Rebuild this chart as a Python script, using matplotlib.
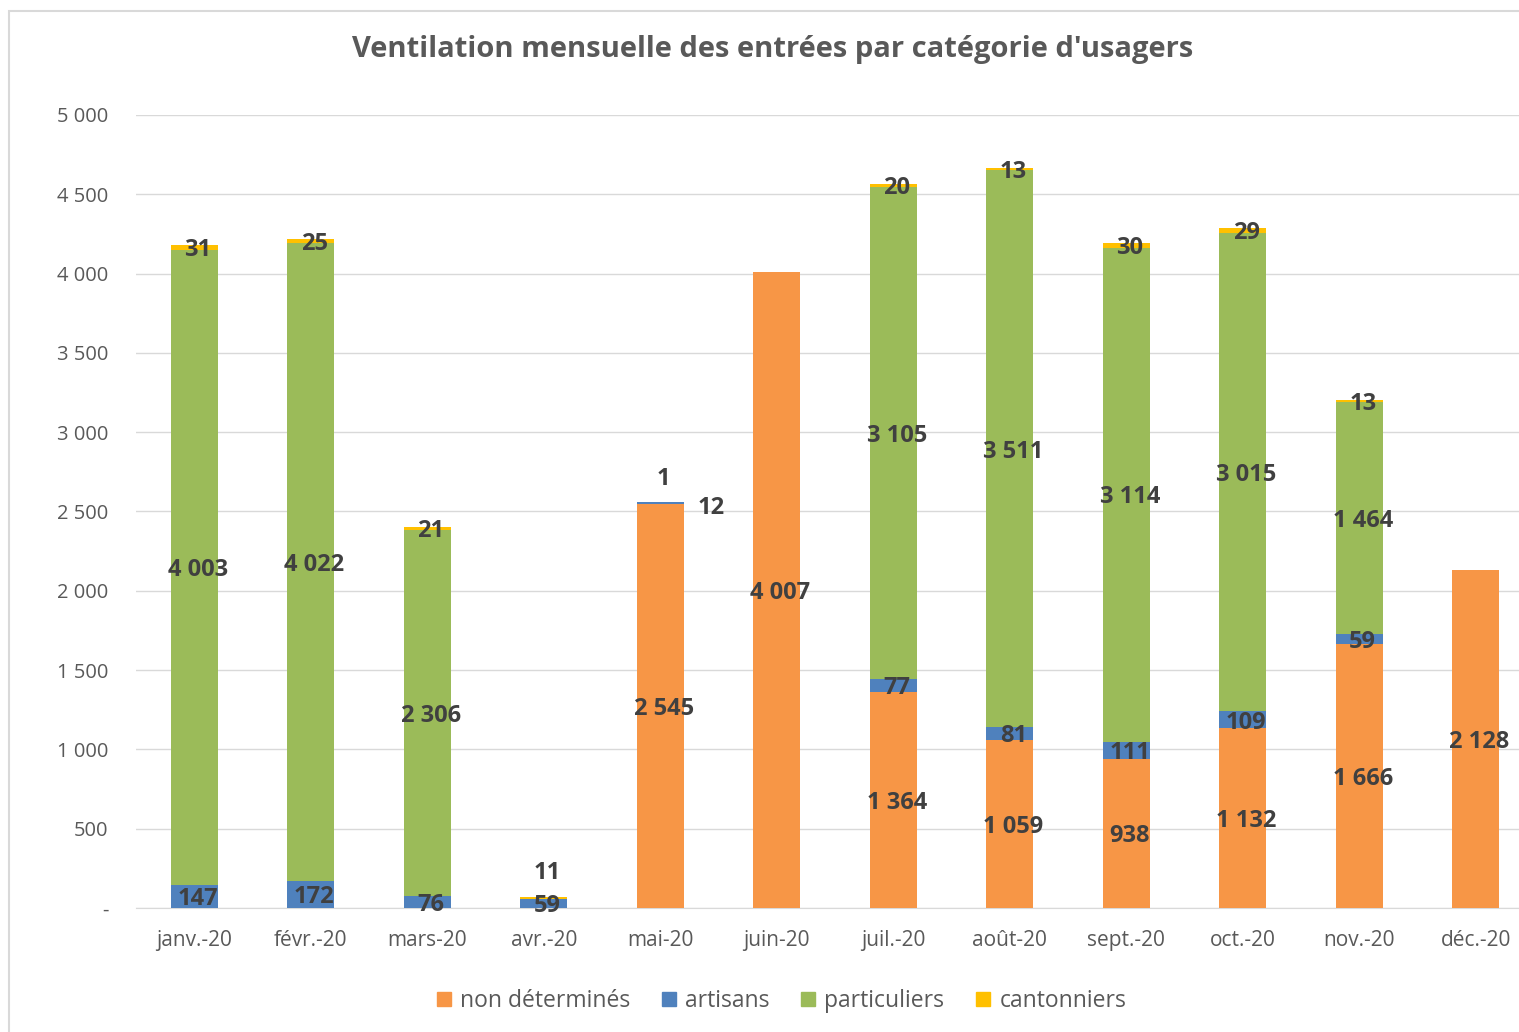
import matplotlib.pyplot as plt
from matplotlib.patches import Rectangle
from matplotlib.lines import Line2D
import numpy as np

plt.rcParams['font.family'] = ['Open Sans', 'DejaVu Sans']

mois = ['janv.-20', 'févr.-20', 'mars-20', 'avr.-20', 'mai-20', 'juin-20',
        'juil.-20', 'août-20', 'sept.-20', 'oct.-20', 'nov.-20', 'déc.-20']
non_determines = [0, 0, 0, 0, 2545, 4007, 1364, 1059, 938, 1132, 1666, 2128]
artisans = [147, 172, 76, 59, 12, 0, 77, 81, 111, 109, 59, 0]
particuliers = [4003, 4022, 2306, 0, 0, 0, 3105, 3511, 3114, 3015, 1464, 0]
cantonniers = [31, 25, 21, 11, 1, 0, 20, 13, 30, 29, 13, 0]

series = [('non déterminés', non_determines, '#F79646'),
          ('artisans', artisans, '#4F81BD'),
          ('particuliers', particuliers, '#9BBB59'),
          ('cantonniers', cantonniers, '#FFC000')]

# labels that Excel pushed away from the segment centre (dx in categories, dy in values)
decalages = {(3, 'cantonniers'): (0, 175),
             (4, 'cantonniers'): (0, 167),
             (4, 'artisans'): (0.41, -10)}

def fmt(v):
    return '{:,}'.format(int(v)).replace(',', ' ')

fig = plt.figure(figsize=(15.19, 10.32), dpi=100)
ax = fig.add_axes([136/1519, 1 - 908/1032, (1534 - 136)/1519, (908 - 115)/1032])

x = np.arange(len(mois))
bas = np.zeros(len(mois))
for nom, vals, coul in series:
    vals = np.array(vals, dtype=float)
    ax.bar(x, vals, width=0.4, bottom=bas, color=coul, zorder=3)
    for i, v in enumerate(vals):
        if v <= 0:
            continue
        dx, dy = decalages.get((i, nom), (0, 0))
        ax.annotate(fmt(v), (x[i] + dx, bas[i] + v / 2 + dy), xytext=(2.5, -2),
                    textcoords='offset points', ha='center', va='center',
                    fontsize=17, fontweight='bold', color='#404040', zorder=4)
    bas += vals

ax.set_xlim(-0.5, len(mois) - 0.5)
ax.set_ylim(0, 5000)
ax.set_yticks(np.arange(0, 5001, 500))
ax.set_yticklabels(['-' if t == 0 else fmt(t) for t in np.arange(0, 5001, 500)])
ax.set_xticks(x)
ax.set_xticklabels(mois)
ax.tick_params(axis='both', length=0, colors='#595959')
ax.tick_params(axis='y', pad=20, labelsize=14.5)
ax.tick_params(axis='x', pad=16, labelsize=15)
ax.grid(axis='y', color='#D9D9D9', linewidth=1, zorder=0)
for s in ['top', 'right', 'left']:
    ax.spines[s].set_visible(False)
ax.spines['bottom'].set_color('#D9D9D9')

fig.text(773/1519, 1 - 50/1032, "Ventilation mensuelle des entrées par catégorie d'usagers",
         ha='center', va='center', fontsize=21, fontweight='bold', color='#595959')

handles = [Line2D([], [], marker='s', linestyle='none', markersize=10,
                  markerfacecolor=c, markeredgecolor=c) for _, _, c in series]
fig.legend(handles, [n for n, _, _ in series], loc='center',
           bbox_to_anchor=(778/1519, 1 - 1001/1032), ncol=4, frameon=False,
           fontsize=16.5, labelcolor='#595959', handletextpad=0.1, columnspacing=1.1,
           handlelength=1.2)

fig.add_artist(Rectangle((9/1519, -0.01), 1.02, 1 - 11/1032 + 0.01, transform=fig.transFigure,
                         fill=False, edgecolor='#D9D9D9', linewidth=1.5))

fig.savefig('out.png', dpi=100)
